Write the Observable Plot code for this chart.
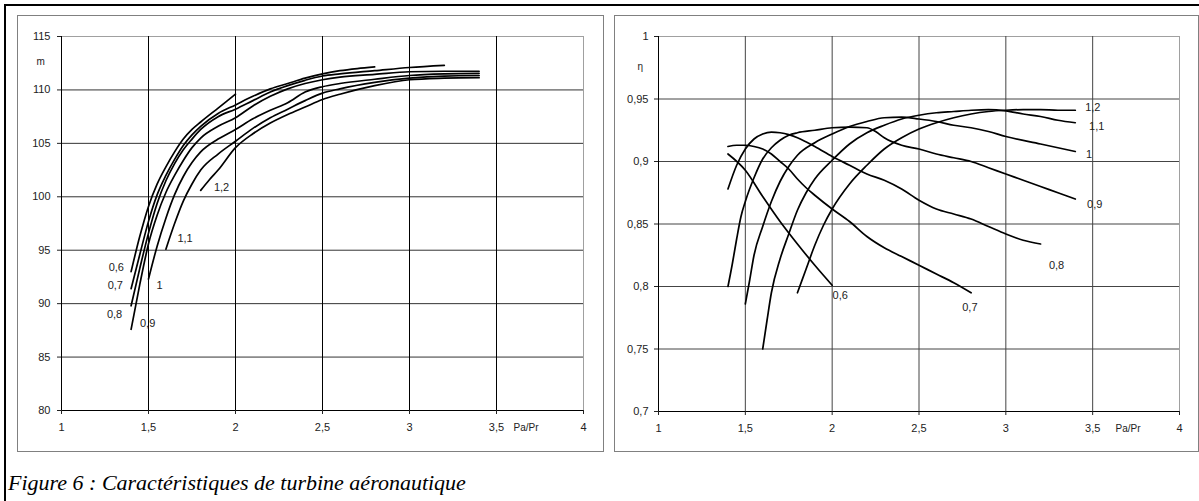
<!DOCTYPE html>
<html><head><meta charset="utf-8">
<script src="https://cdn.jsdelivr.net/npm/d3@7"></script>
<script src="https://cdn.jsdelivr.net/npm/@observablehq/plot@0.6"></script>
<style>
body{margin:0;background:#fff;width:1199px;height:501px;position:relative;overflow:hidden;font-family:"Liberation Sans",Arial,sans-serif;}
.frameTop{position:absolute;left:4px;top:4px;width:1195px;height:2px;background:#000}
.frameLeft{position:absolute;left:4px;top:4px;width:2px;height:497px;background:#000}
.panel{position:absolute;top:15px;height:437px;border:1px solid #808080;box-sizing:border-box}
#pl{left:17px;width:587px}
#pr{left:614px;width:585px}
.chart{position:absolute;top:0}
#caption{position:absolute;left:8px;top:472px;line-height:22px;white-space:nowrap;font:italic 22px/22px "Liberation Serif","Times New Roman",serif;color:#000}
</style></head>
<body>
<div class="frameTop"></div><div class="frameLeft"></div>
<div class="panel" id="pl"></div><div class="panel" id="pr"></div>
<div class="chart" id="cl" style="left:0px"></div>
<div class="chart" id="cr" style="left:600px"></div>
<div id="caption">Figure 6 : Caractéristiques de turbine aéronautique</div>
<script>
// ---- tick values ----
const xTicks = [1, 1.5, 2, 2.5, 3, 3.5, 4];
const mTicks = [80, 85, 90, 95, 100, 105, 110, 115];
const etaTicks = [0.7, 0.75, 0.8, 0.85, 0.9, 0.95, 1];
const speeds = ["0,6", "0,7", "0,8", "0,9", "1", "1,1", "1,2"];

// ---- left chart: débit m vs Pa/Pr ----
const m06 = [[1.4,93.0],[1.45,96.3],[1.5,99.1],[1.55,101.2],[1.6,102.8],[1.65,104.2],[1.7,105.4],[1.75,106.3],[1.8,107.0],[1.9,108.3],[2.0,109.6]];
const m07 = [[1.4,91.4],[1.45,94.6],[1.5,97.7],[1.55,100.2],[1.6,102.0],[1.65,103.5],[1.7,104.8],[1.75,105.8],[1.8,106.6],[1.9,107.8],[2.0,108.6],[2.1,109.4],[2.2,110.1],[2.3,110.6],[2.4,111.1],[2.5,111.5],[2.6,111.8],[2.7,112.0],[2.8,112.15]];
const m08 = [[1.4,89.8],[1.45,93.3],[1.5,96.6],[1.55,99.4],[1.6,101.5],[1.65,103.1],[1.7,104.4],[1.75,105.4],[1.8,106.3],[1.9,107.5],[2.0,108.2],[2.1,109.0],[2.2,109.8],[2.3,110.4],[2.4,110.9],[2.5,111.3],[2.6,111.5],[2.8,111.8],[3.0,112.1],[3.2,112.3]];
const m09 = [[1.4,87.6],[1.45,91.8],[1.5,95.6],[1.55,98.3],[1.6,100.4],[1.65,102.0],[1.7,103.4],[1.75,104.6],[1.8,105.5],[1.9,106.6],[2.0,107.4],[2.1,108.5],[2.2,109.4],[2.3,110.1],[2.4,110.6],[2.5,110.95],[2.6,111.2],[2.8,111.45],[3.0,111.7],[3.2,111.75],[3.4,111.75]];
const m10 = [[1.5,92.3],[1.55,95.4],[1.6,98.0],[1.65,100.2],[1.7,101.9],[1.75,103.2],[1.8,104.2],[1.9,105.4],[2.0,106.3],[2.1,107.3],[2.2,108.1],[2.3,108.8],[2.4,109.8],[2.5,110.3],[2.6,110.6],[2.8,111.0],[3.0,111.35],[3.2,111.5],[3.4,111.55]];
const m11 = [[1.6,95.1],[1.65,97.5],[1.7,99.6],[1.75,101.2],[1.8,102.5],[1.9,104.0],[2.0,105.2],[2.1,106.4],[2.2,107.4],[2.3,108.2],[2.4,109.0],[2.5,109.7],[2.6,110.1],[2.8,110.7],[3.0,111.1],[3.2,111.3],[3.4,111.35]];
const m12 = [[1.8,100.6],[1.85,101.6],[1.9,102.5],[2.0,104.6],[2.1,105.9],[2.2,106.9],[2.3,107.7],[2.4,108.4],[2.5,109.1],[2.6,109.6],[2.8,110.4],[3.0,110.95],[3.2,111.1],[3.4,111.15]];
const mLabelX = [1.315, 1.309, 1.305, 1.495, 1.563, 1.71, 1.92];
const mLabelY = [93.4, 91.7, 88.96, 88.1, 91.7, 96.1, 100.9];

// ---- right chart: rendement η vs Pa/Pr ----
const e06 = [[1.4,0.906],[1.5,0.893],[1.6,0.872],[1.7,0.852],[1.8,0.834],[1.9,0.817],[2.0,0.801]];
const e07 = [[1.4,0.912],[1.45,0.913],[1.5,0.913],[1.55,0.912],[1.6,0.910],[1.65,0.906],[1.7,0.900],[1.75,0.894],[1.8,0.886],[1.85,0.879],[1.9,0.873],[2.0,0.862],[2.1,0.852],[2.2,0.840],[2.3,0.831],[2.4,0.824],[2.5,0.817],[2.6,0.810],[2.7,0.803],[2.8,0.795]];
const e08 = [[1.4,0.878],[1.45,0.897],[1.5,0.910],[1.55,0.918],[1.6,0.922],[1.65,0.9235],[1.7,0.923],[1.75,0.9215],[1.8,0.919],[1.9,0.912],[2.0,0.904],[2.1,0.897],[2.2,0.890],[2.3,0.885],[2.4,0.878],[2.5,0.869],[2.6,0.862],[2.7,0.858],[2.8,0.854],[2.9,0.848],[3.0,0.842],[3.1,0.837],[3.2,0.834]];
const e09 = [[1.4,0.800],[1.425,0.818],[1.45,0.838],[1.475,0.856],[1.5,0.868],[1.55,0.887],[1.6,0.902],[1.65,0.911],[1.7,0.917],[1.75,0.921],[1.8,0.923],[1.9,0.925],[2.0,0.927],[2.1,0.9275],[2.2,0.927],[2.25,0.924],[2.3,0.919],[2.4,0.913],[2.5,0.910],[2.6,0.906],[2.7,0.903],[2.8,0.900],[2.9,0.895],[3.0,0.890],[3.1,0.885],[3.2,0.880],[3.3,0.875],[3.4,0.870]];
const e10 = [[1.5,0.786],[1.525,0.805],[1.55,0.825],[1.6,0.848],[1.65,0.868],[1.7,0.884],[1.75,0.896],[1.8,0.905],[1.9,0.915],[2.0,0.922],[2.1,0.928],[2.2,0.932],[2.3,0.935],[2.4,0.9355],[2.5,0.934],[2.6,0.932],[2.7,0.929],[2.8,0.927],[2.9,0.924],[3.0,0.920],[3.2,0.914],[3.4,0.908]];
const e11 = [[1.6,0.750],[1.625,0.773],[1.65,0.795],[1.7,0.822],[1.75,0.842],[1.8,0.861],[1.85,0.875],[1.9,0.886],[2.0,0.901],[2.1,0.914],[2.2,0.923],[2.3,0.929],[2.4,0.934],[2.5,0.937],[2.6,0.939],[2.7,0.940],[2.8,0.941],[2.9,0.9415],[3.0,0.9405],[3.1,0.938],[3.2,0.936],[3.3,0.933],[3.4,0.931]];
const e12 = [[1.8,0.795],[1.85,0.814],[1.9,0.833],[1.95,0.849],[2.0,0.862],[2.1,0.882],[2.2,0.897],[2.3,0.910],[2.4,0.919],[2.5,0.926],[2.6,0.931],[2.7,0.935],[2.8,0.938],[2.9,0.940],[3.0,0.941],[3.1,0.9415],[3.2,0.9415],[3.3,0.941],[3.4,0.941]];
const eLabelX = [2.046, 2.793, 3.292, 3.512, 3.479, 3.523, 3.501];
const eLabelY = [0.793, 0.783, 0.817, 0.866, 0.906, 0.928, 0.943];

// ---- build tables ----
const toRows = (list) => list.flatMap((pts, i) => pts.map(([x, y]) => ({s: speeds[i], x, y})));
const leftRows = toRows([m06, m07, m08, m09, m10, m11, m12]);
const rightRows = toRows([e06, e07, e08, e09, e10, e11, e12]);
const leftLabels = speeds.map((t, i) => ({t, x: mLabelX[i], y: mLabelY[i]}));
const rightLabels = speeds.map((t, i) => ({t, x: eLabelX[i], y: eLabelY[i]}));
const fmt = d => String(+d.toFixed(2)).replace(".", ",");

const baseStyle = {background: "transparent", fontFamily: "'Liberation Sans', Arial, sans-serif", fontSize: "11px", color: "#222", overflow: "visible"};

function chart({rows, labels, yTicks, yDomain, w, ml, mr, mb, gridH, gridV, yTitle, yTitleDx, yTitleDy, xTitleDx, yPad}) {
  return Plot.plot({
    width: w, height: 450, marginLeft: ml, marginRight: mr, marginTop: 36, marginBottom: mb,
    style: baseStyle,
    x: {domain: [1, 4]}, y: {domain: yDomain},
    marks: [
      Plot.ruleY(yTicks.slice(0, -1), {stroke: gridH}),
      Plot.ruleY(yTicks.slice(-1), {stroke: "#a0a0a0"}),
      Plot.ruleX(xTicks.slice(1, -1), {stroke: gridV}),
      Plot.ruleX(xTicks.slice(-1), {stroke: "#a0a0a0"}),
      Plot.ruleX(xTicks.slice(0, 1), {stroke: "#000"}),
      Plot.ruleY(yTicks.slice(0, 1), {stroke: "#000"}),
      Plot.line(rows, {x: "x", y: "y", z: "s", stroke: "#000", strokeWidth: 1.7, curve: "monotone-x"}),
      Plot.text(labels, {x: "x", y: "y", text: "t", fill: "#222", fontSize: 11}),
      Plot.axisX(xTicks, {tickFormat: fmt, tickSize: 4, tickPadding: 9, label: null}),
      Plot.axisY(yTicks, {tickFormat: fmt, tickSize: 4, tickPadding: yPad, label: null}),
      Plot.text([yTitle], {frameAnchor: "top-left", dx: yTitleDx, dy: yTitleDy, fontSize: 10, fill: "#222"}),
      Plot.text(["Pa/Pr"], {frameAnchor: "bottom-right", dx: xTitleDx, dy: 20, fontSize: 10, fill: "#222"})
    ]
  });
}

document.getElementById("cl").append(chart({
  rows: leftRows, labels: leftLabels, yTicks: mTicks, yDomain: [80, 115], w: 600, ml: 61, mr: 17, mb: 40,
  gridH: "#333", gridV: "#000", yTitle: "m", yTitleDx: -25, yTitleDy: 21, xTitleDx: -45, yPad: 7
}));
document.getElementById("cr").append(chart({
  rows: rightRows, labels: rightLabels, yTicks: etaTicks, yDomain: [0.7, 1], w: 599, ml: 58, mr: 20, mb: 39,
  gridH: "#444", gridV: "#444", yTitle: "η", yTitleDx: -21, yTitleDy: 26, xTitleDx: -39, yPad: 6
}));
</script>
</body></html>
